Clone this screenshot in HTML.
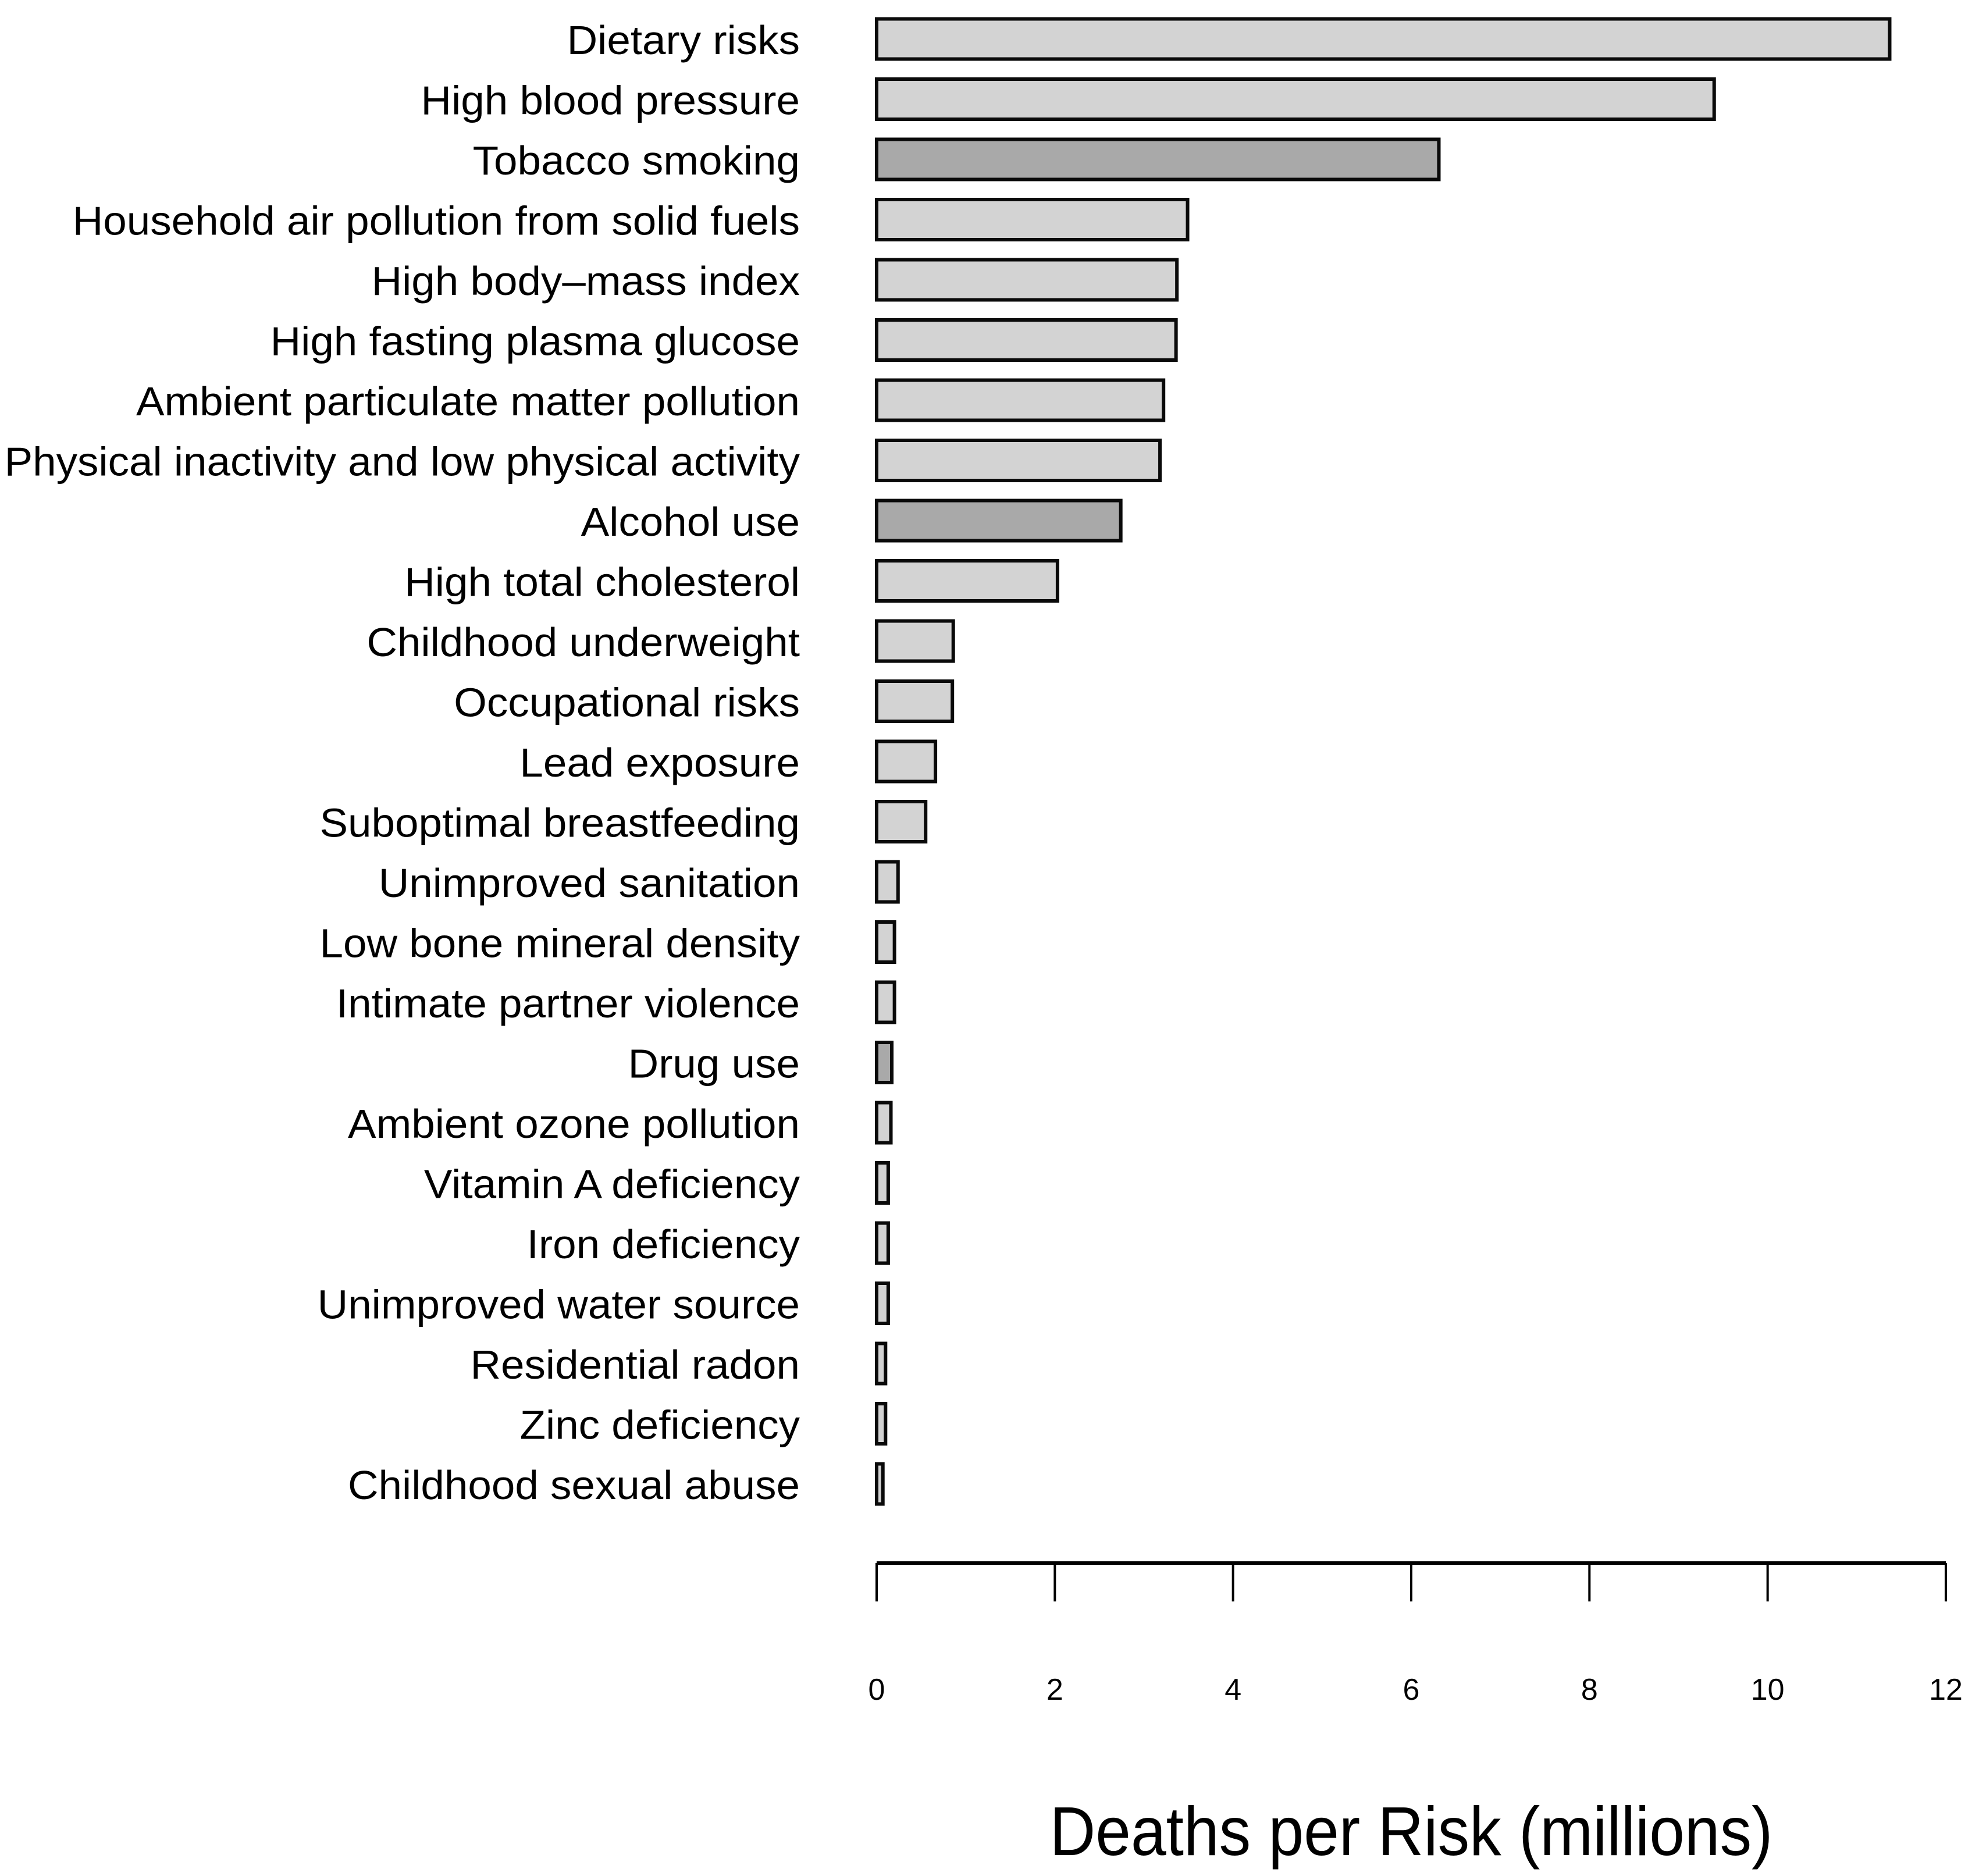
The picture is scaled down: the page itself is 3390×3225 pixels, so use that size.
<!DOCTYPE html>
<html><head><meta charset="utf-8"><style>
html,body{margin:0;padding:0;background:#fff;}
svg{display:block;font-family:"Liberation Sans",Arial,sans-serif;}
</style></head><body>
<svg id="chart" width="3390" height="3225" viewBox="0 0 3390 3225" xmlns="http://www.w3.org/2000/svg">
<rect width="3390" height="3225" fill="#fff"/>
<g id="bars"></g>
<g id="labels"></g>
<g id="axis"></g>
<text x="2426" y="3189" font-size="119" text-anchor="middle" textLength="1243" lengthAdjust="spacingAndGlyphs">Deaths per Risk (millions)</text>
</svg>
<script>
const categories = ["Dietary risks","High blood pressure","Tobacco smoking","Household air pollution from solid fuels","High body\u2013mass index","High fasting plasma glucose","Ambient particulate matter pollution","Physical inactivity and low physical activity","Alcohol use","High total cholesterol","Childhood underweight","Occupational risks","Lead exposure","Suboptimal breastfeeding","Unimproved sanitation","Low bone mineral density","Intimate partner violence","Drug use","Ambient ozone pollution","Vitamin A deficiency","Iron deficiency","Unimproved water source","Residential radon","Zinc deficiency","Childhood sexual abuse"];
const values = [11.37,9.40,6.31,3.49,3.37,3.36,3.22,3.18,2.74,2.03,0.86,0.85,0.66,0.55,0.24,0.20,0.20,0.17,0.16,0.13,0.13,0.13,0.10,0.10,0.07];
const behavioural = [false,false,true,false,false,false,false,false,true,false,false,false,false,false,false,false,false,true,false,false,false,false,false,false,false];
const ticks = [0,2,4,6,8,10,12];

const NS="http://www.w3.org/2000/svg";
const x0=1507, x1=3345, xmax=12;
const xs=v=>x0+(x1-x0)*v/xmax;
const yc=i=>67+i*103.5;
const bh=69;
const bars=document.getElementById('bars'), labels=document.getElementById('labels'), axis=document.getElementById('axis');
function mk(tag,attrs,parent){const e=document.createElementNS(NS,tag);for(const k in attrs)e.setAttribute(k,attrs[k]);parent.appendChild(e);return e;}
categories.forEach((c,i)=>{
  const r=mk('rect',{x:xs(0),y:yc(i)-bh/2,width:Math.max(xs(values[i])-xs(0),1),height:bh,fill:behavioural[i]?'#a9a9a9':'#d3d3d3',stroke:'#0a0a0a','stroke-width':6},bars);
  
  
  const t=mk('text',{transform:`translate(1375,${yc(i)+26}) scale(1.04,1)`,'font-size':70,'text-anchor':'end',fill:'#000'},labels);
  t.textContent=c;
  
  
});
const ay=2687;
const line=mk('line',{x1:xs(0),x2:xs(12),y1:ay,y2:ay,stroke:'#000','stroke-width':6},axis);


ticks.forEach(v=>{
  const tk=mk('line',{x1:xs(v),x2:xs(v),y1:ay,y2:ay+66,stroke:'#000','stroke-width':4},axis);
  
  
  const tl=mk('text',{x:xs(v),y:2922,'font-size':52,'text-anchor':'middle',fill:'#000'},axis);
  tl.textContent=String(v);
  
  
});
</script>
</body></html>
